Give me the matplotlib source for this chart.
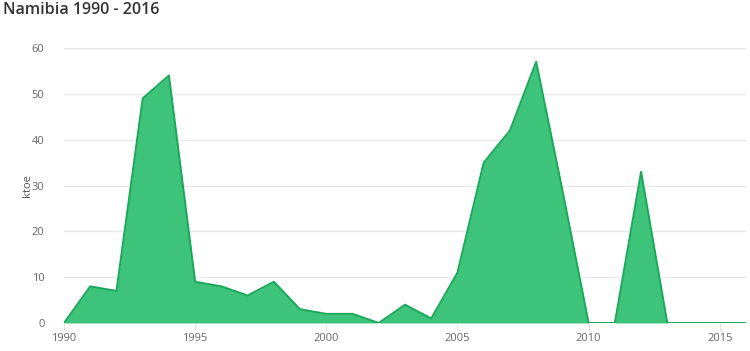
import matplotlib
matplotlib.use("Agg")
import matplotlib.pyplot as plt

years = list(range(1990, 2017))
values = [0, 8, 7, 49, 54, 9, 8, 6, 9, 3, 2, 2, 0, 4, 1, 11, 35, 42, 57, 29,
          0, 0, 33, 0, 0, 0, 0]
yticks = [0, 10, 20, 30, 40, 50, 60]
xticks = [1990, 1995, 2000, 2005, 2010, 2015]
title = "Namibia 1990 - 2016"
ylabel = "ktoe"

plt.rcParams['font.family'] = ['Open Sans', 'DejaVu Sans']

fig = plt.figure(figsize=(7.5, 3.51), dpi=100)
ax = fig.add_axes([64/750, 28/351, (746-64)/750, (323-48)/351])

ax.fill_between(years, values, 0, color='#3ec47a', linewidth=0, zorder=2)
ax.plot(years, values, color='#1aa85a', linewidth=1.4, zorder=3)

ax.set_xlim(1990, 2016)
ax.set_ylim(0, 60)
ax.set_yticks(yticks)
ax.set_xticks(xticks)
ax.grid(axis='y', color='#e8e8e8', linewidth=1, zorder=0)
for s in ax.spines.values():
    s.set_visible(False)
ax.tick_params(axis='y', length=0, pad=14, labelsize=8, labelcolor='#666666')
ax.tick_params(axis='x', length=5, color='#e0e0e0', pad=2, labelsize=8, labelcolor='#666666')
ax.set_ylabel(ylabel, fontsize=8, color='#555555')
ax.yaxis.set_label_coords(-(64 - 33) / (746 - 64), 0.5)

fig.text(3/750, 1 - 10/351, title, fontsize=11.5, fontweight='semibold', color='#333333', va='center', ha='left')

fig.savefig("out.png", dpi=100)
